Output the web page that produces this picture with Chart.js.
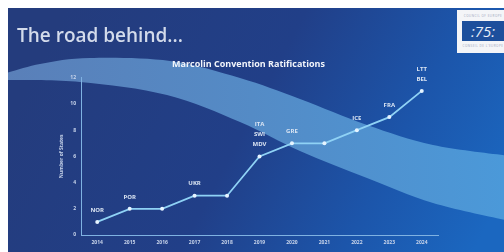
<!DOCTYPE html>
<html>
<head>
<meta charset="utf-8">
<script src="https://cdn.jsdelivr.net/npm/chart.js@4"></script>
<style>
  html, body { margin: 0; padding: 0; background: #fff; }
  #wrap { position: relative; width: 504px; height: 252px; overflow: hidden; }
  #slideTitle {
    position: absolute; left: 17px; top: 22px;
    font: 600 19px "Open Sans", sans-serif; color: #d3dbeb; white-space: nowrap;
  }
  #logo {
    position: absolute; left: 457px; top: 10px; width: 50px; height: 43px;
    background: #f4f5f8; box-sizing: border-box;
  }
  #logo .inner {
    position: absolute; left: 5px; top: 11px; width: 42px; height: 20px;
    background: #1d4f9c; color: #e8eef8; text-align: center;
    font: italic 15px/20px "Open Sans", sans-serif;
  }
  #logo .small {
    position: absolute; left: 5px; width: 42px; text-align: center;
    font: 3px/4px "Open Sans", sans-serif; color: #9aa4b8; letter-spacing: 0.5px;
  }
</style>
</head>
<body>
<div id="wrap">
  <canvas id="myLineChart" width="504" height="252"></canvas>
  <div id="slideTitle">The road behind...</div>
  <div id="logo">
    <div class="small" style="top:4px">COUNCIL OF EUROPE</div>
    <div class="inner">:75:</div>
    <div class="small" style="top:34px">CONSEIL DE L'EUROPE</div>
  </div>
</div>
<script>
// Datos del gráfico
const years = ['2014', '2015', '2016', '2017', '2018', '2019', '2020', '2021', '2022', '2023', '2024'];
const ratifications = [1, 2, 2, 3, 3, 6, 7, 7, 8, 9, 11];
const countries = [['NOR'], ['POR'], [], ['UKR'], [], ['ITA', 'SWI', 'MDV'], ['GRE'], [], ['ICE'], ['FRA'], ['LTT', 'BEL']];
const yTicks = [0, 2, 4, 6, 8, 10, 12];

// Curva suave (decoración del fondo)
function smoothPath(ctx, pts, moveFirst) {
    if (moveFirst) ctx.moveTo(pts[0][0], pts[0][1]); else ctx.lineTo(pts[0][0], pts[0][1]);
    for (let i = 0; i < pts.length - 1; i++) {
        const p0 = pts[i - 1] || pts[i], p1 = pts[i], p2 = pts[i + 1], p3 = pts[i + 2] || p2;
        ctx.bezierCurveTo(
            p1[0] + (p2[0] - p0[0]) / 6, p1[1] + (p2[1] - p0[1]) / 6,
            p2[0] - (p3[0] - p1[0]) / 6, p2[1] - (p3[1] - p1[1]) / 6,
            p2[0], p2[1]);
    }
}

// Fondo de la diapositiva: azul con la banda ondulada
const slideBackground = {
    id: 'slideBackground',
    beforeDraw(chart) {
        const ctx = chart.ctx;
        ctx.save();
        ctx.fillStyle = '#ffffff';
        ctx.fillRect(0, 0, 504, 252);
        ctx.beginPath();
        ctx.rect(8, 8, 496, 244);
        ctx.clip();
        const bg = ctx.createLinearGradient(60, 20, 480, 240);
        bg.addColorStop(0, '#243c7d');
        bg.addColorStop(0.45, '#213f88');
        bg.addColorStop(0.75, '#1c55aa');
        bg.addColorStop(1, '#1b67c0');
        ctx.fillStyle = bg;
        ctx.fillRect(0, 0, 504, 252);

        const upper = [[0, 75], [40, 64], [90, 58], [170, 61], [240, 78], [300, 99], [367, 125], [433, 145], [510, 156]];
        const lower = [[510, 221], [433, 203], [367, 178], [300, 151], [240, 122], [167, 95], [80, 82], [0, 80]];
        ctx.beginPath();
        smoothPath(ctx, upper, true);
        smoothPath(ctx, lower, false);
        ctx.closePath();
        const band = ctx.createLinearGradient(0, 0, 504, 0);
        band.addColorStop(0, '#5a7fb8');
        band.addColorStop(0.5, '#548bc6');
        band.addColorStop(1, '#4b99d9');
        ctx.fillStyle = band;
        ctx.fill();
        ctx.restore();
    }
};

// Etiquetas de países sobre los puntos
const countryLabels = {
    id: 'countryLabels',
    afterDatasetsDraw(chart) {
        const ctx = chart.ctx;
        const meta = chart.getDatasetMeta(0);
        ctx.save();
        ctx.font = 'bold 6px "Open Sans", sans-serif';
        ctx.fillStyle = '#dbe5f3';
        ctx.textAlign = 'center';
        ctx.textBaseline = 'middle';
        meta.data.forEach((pt, i) => {
            const lines = countries[i];
            lines.forEach((txt, j) => {
                const y = pt.y - 12 - (lines.length - 1 - j) * 10;
                ctx.fillText(txt, pt.x, y);
            });
        });
        ctx.restore();
    }
};

window.onload = function() {
    const ctx = document.getElementById('myLineChart').getContext('2d');
    new Chart(ctx, {
        type: 'line',
        data: {
            labels: years,
            datasets: [{
                label: 'Ratifications',
                data: ratifications,
                borderColor: '#8fd2f5',
                borderWidth: 1.8,
                pointRadius: 2,
                pointBackgroundColor: '#e6f4ff',
                pointBorderWidth: 0,
                tension: 0
            }]
        },
        options: {
            responsive: false,
            animation: false,
            layout: { padding: { left: 59, right: 66, top: 59, bottom: 0 } },
            plugins: {
                legend: { display: false },
                tooltip: { enabled: false },
                title: {
                    display: true,
                    text: 'Marcolin Convention Ratifications',
                    color: '#f2f5fb',
                    font: { family: 'Open Sans', size: 9, weight: 'bold' },
                    padding: { top: 0, bottom: 8 }
                }
            },
            scales: {
                x: {
                    offset: true,
                    grid: { display: false, drawTicks: false },
                    border: { color: '#7fb2e2', width: 1 },
                    ticks: { color: '#c8d4ea', font: { family: 'Open Sans', size: 5, weight: 'bold' }, padding: 5, maxRotation: 0 },
                    afterFit: (s) => { s.height = 17; }
                },
                y: {
                    min: 0,
                    max: 12,
                    grid: { display: false, drawTicks: false },
                    border: { color: '#7fb2e2', width: 1 },
                    afterBuildTicks: (s) => { s.ticks = yTicks.map(v => ({ value: v })); },
                    ticks: { color: '#c8d4ea', font: { family: 'Open Sans', size: 5, weight: 'bold' }, padding: 5 },
                    title: {
                        display: true,
                        text: 'Number of States',
                        color: '#c8d4ea',
                        font: { family: 'Open Sans', size: 5, weight: 'bold' },
                        padding: 0
                    },
                    afterFit: (s) => { s.width = 22; }
                }
            }
        },
        plugins: [slideBackground, countryLabels]
    });
};
</script>
</body>
</html>
